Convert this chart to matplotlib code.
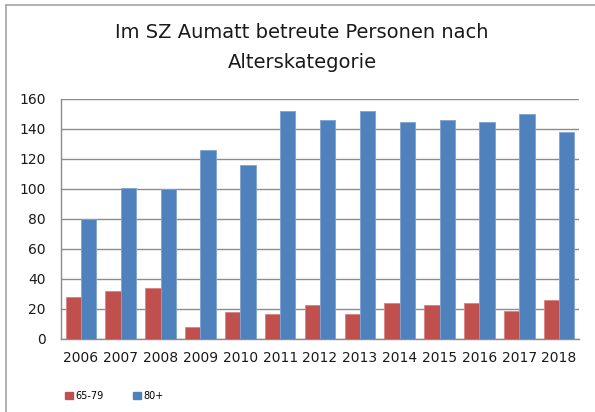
import matplotlib
matplotlib.use("Agg")
import matplotlib.pyplot as plt
import numpy as np
from matplotlib.lines import Line2D
from matplotlib.patches import Patch

years = ["2006", "2007", "2008", "2009", "2010", "2011", "2012",
         "2013", "2014", "2015", "2016", "2017", "2018"]
age_65_79 = [28, 32, 34, 8, 18, 17, 23, 17, 24, 23, 24, 19, 26]
age_80plus = [80, 101, 100, 126, 116, 152, 146, 152, 145, 146, 145, 150, 138]
series_labels = ["65-79", "80+"]
y_ticks = [0, 20, 40, 60, 80, 100, 120, 140, 160]

red = "#C0504D"
blue = "#4F81BD"
grid = "#8C8C8C"

plt.rcParams['font.family'] = ['DejaVu Sans']

fig = plt.figure(figsize=(5.95, 4.12), dpi=100)
W, H = 595, 412
ax = fig.add_axes([61 / W, 1 - 339 / H, (579 - 61) / W, (339 - 99) / H])

x = np.arange(len(years))
bw = 0.385
ax.bar(x - bw / 2, age_65_79, width=bw, color=red, edgecolor="#D7837F",
       linewidth=0.6, zorder=3, label=series_labels[0])
ax.bar(x + bw / 2, age_80plus, width=bw, color=blue, edgecolor="#7FA3D1",
       linewidth=0.6, zorder=3, label=series_labels[1])

ax.set_xlim(-0.5, len(years) - 0.5)
ax.set_ylim(0, 160)
ax.set_yticks(y_ticks)
ax.set_yticklabels([str(v) for v in y_ticks], fontsize=10, color="#1a1a1a")
ax.set_xticks(x)
ax.set_xticklabels(years, fontsize=10, color="#1a1a1a")
ax.tick_params(axis="both", length=0)
ax.tick_params(axis="y", pad=11)
ax.tick_params(axis="x", pad=9)
ax.yaxis.grid(True, color=grid, linewidth=1.0, zorder=0)
ax.set_axisbelow(True)
for s in ["top", "right"]:
    ax.spines[s].set_visible(False)
for s in ["left", "bottom"]:
    ax.spines[s].set_color(grid)
    ax.spines[s].set_linewidth(1.0)

fig.text(302 / W, 1 - 33 / H, "Im SZ Aumatt betreute Personen nach",
         ha="center", va="center", fontsize=14, color="#1a1a1a")
fig.text(302 / W, 1 - 62 / H, "Alterskategorie",
         ha="center", va="center", fontsize=14, color="#1a1a1a")

handles = [Patch(facecolor=red, edgecolor=red), Patch(facecolor=blue, edgecolor=blue)]
fig.legend(handles, series_labels, loc="center left",
           bbox_to_anchor=(56 / W, 1 - 396 / H), ncol=2, frameon=False,
           fontsize=7, handlelength=0.8, handleheight=0.8, handletextpad=0.3,
           columnspacing=3.0)

# outer chart frame
fig.add_artist(Line2D([6 / W, 6 / W], [0, 1 - 5 / H], transform=fig.transFigure,
                      color="#A6A6A6", linewidth=1.2))
fig.add_artist(Line2D([6 / W, 1], [1 - 5 / H, 1 - 5 / H], transform=fig.transFigure,
                      color="#A6A6A6", linewidth=1.2))

fig.savefig("out.png", dpi=100)
